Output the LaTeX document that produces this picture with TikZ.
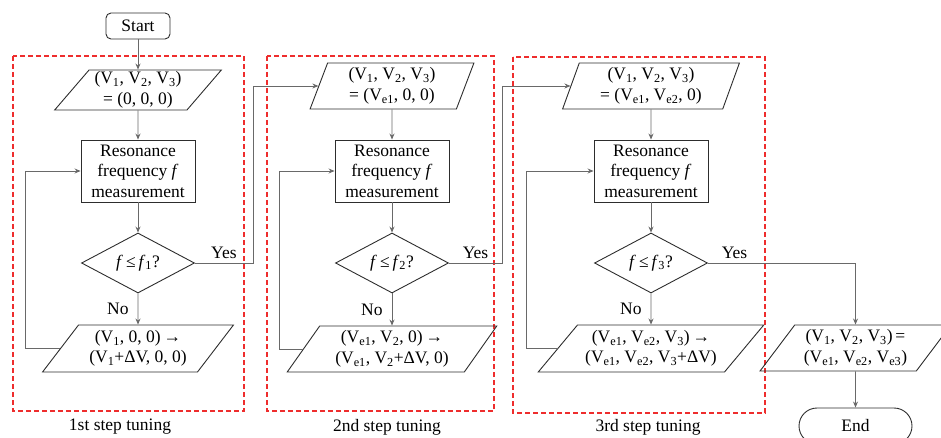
\documentclass[tikz,border=0pt]{standalone}
\usepackage{fontspec}
\setmainfont{Liberation Serif}
\usetikzlibrary{shapes.geometric,shapes.misc,arrows.meta}
\definecolor{framered}{RGB}{238,45,45}
\definecolor{edgegray}{RGB}{105,105,105}
\definecolor{linegray}{RGB}{45,45,45}
\newcommand{\vsub}[1]{V\textsubscript{#1}}
\newcommand{\fsub}[1]{\textit{f}\,≤\,\textit{f}\textsubscript{#1}?}
\tikzset{
  startbox/.style={draw=linegray, line width=0.9pt, rounded corners=5pt, minimum width=64pt, minimum height=26pt, inner sep=0pt},
  endbox/.style={draw=linegray, line width=0.9pt, rounded rectangle, minimum width=113pt, minimum height=36pt, inner sep=0pt},
  procbox/.style={draw=linegray, line width=0.9pt, align=center, minimum width=114pt, minimum height=62pt, inner sep=0pt},
  testbox/.style={draw=linegray, line width=0.9pt, diamond, aspect=1.9, minimum width=113pt, minimum height=60pt, inner sep=0pt},
  iobox/.style={draw=linegray, line width=0.9pt, trapezium, trapezium stretches=true, trapezium left angle=#1, trapezium right angle=180-#1, align=center, inner sep=0pt},
  stepframe/.style={draw=framered, line width=1.4pt, dash pattern=on 5pt off 3pt},
  caption/.style={inner sep=0pt}
}
\begin{document}
\begin{tikzpicture}[x=1pt, y=-1pt, font=\fontsize{17.5}{20.5}\selectfont]
      \useasboundingbox (0,0) rectangle (941,438);
      \draw[stepframe] (13,56) rectangle (244,411);
      \draw[stepframe] (267,56) rectangle (494,411);
      \draw[stepframe] (513,57) rectangle (765,413);
      \draw
        (138,26) node[startbox] (start) {Start}
        (138,90) node[iobox=50, minimum width=167pt, minimum height=40pt] (p1t) {(\vsub{1}, \vsub{2}, \vsub{3})\\= (0, 0, 0)}
        (138,171) node[procbox] (r1) {Resonance\\frequency \textit{f}\\measurement}
        (138,263) node[testbox] (d1) {\fsub{1}}
        (138,348.5) node[iobox=51, minimum width=191pt, minimum height=47pt] (p1b) {(\vsub{1}, 0, 0)\,→\\(\vsub{1}+ΔV, 0, 0)}
        (392,86) node[iobox=72, minimum width=164pt, minimum height=46pt] (p2t) {(\vsub{1}, \vsub{2}, \vsub{3})\\= (\vsub{e1}, 0, 0)}
        (392,171) node[procbox] (r2) {Resonance\\frequency \textit{f}\\measurement}
        (392,263) node[testbox] (d2) {\fsub{2}}
        (392,349) node[iobox=55, minimum width=210pt, minimum height=46pt] (p2b) {(\vsub{e1}, \vsub{2}, 0)\,→\\(\vsub{e1}, \vsub{2}+ΔV, 0)}
        (651,86) node[iobox=72, minimum width=177pt, minimum height=46pt] (p3t) {(\vsub{1}, \vsub{2}, \vsub{3})\\= (\vsub{e1}, \vsub{e2}, 0)}
        (651,171) node[procbox] (r3) {Resonance\\frequency \textit{f}\\measurement}
        (651,263) node[testbox] (d3) {\fsub{3}}
        (651,348.5) node[iobox=46, minimum width=226pt, minimum height=47pt] (p3b) {(\vsub{e1}, \vsub{e2}, \vsub{3})\,→\\(\vsub{e1}, \vsub{e2}, \vsub{3}+ΔV)}
        (855.5,348) node[iobox=51, minimum width=191pt, minimum height=46pt] (pe) {(\vsub{1}, \vsub{2}, \vsub{3})\,=\\(\vsub{e1}, \vsub{e2}, \vsub{e3})}
        (855.5,426) node[endbox] (end) {End};
      \draw
        (120,427) node[caption] (cap1) {1st step tuning}
        (387,427) node[caption] (cap2) {2nd step tuning}
        (648,427) node[caption] (cap3) {3rd step tuning};
      \coordinate (loop1) at (25,0);
      \coordinate (loop2) at (279,0);
      \coordinate (loop3) at (526,0);
      \coordinate (yes1) at (253,0);
      \coordinate (yes2) at (502,0);
      \begin{scope}[draw=edgegray, line width=0.8pt, -{Stealth[length=6pt,width=5pt]}]
        \draw (start) to (p1t);
        \draw (p1t) to (r1);
        \draw (r1) to (d1);
        \draw (d1) to node[left, inner sep=9pt] {No} (p1b);
        \draw (p1b.west) -- (p1b.west -| loop1) |- (r1.west);
        \draw (d1.east) -- node[above, inner sep=4pt] {Yes} (d1.east -| yes1) |- (p2t.west);
        \draw (p2t) to (r2);
        \draw (r2) to (d2);
        \draw (d2) to node[left, inner sep=9pt] {No} (p2b);
        \draw (p2b.west) -- (p2b.west -| loop2) |- (r2.west);
        \draw (d2.east) -- node[above, inner sep=4pt] {Yes} (d2.east -| yes2) |- (p3t.west);
        \draw (p3t) to (r3);
        \draw (r3) to (d3);
        \draw (d3) to node[left, inner sep=9pt] {No} (p3b);
        \draw (p3b.west) -- (p3b.west -| loop3) |- (r3.west);
        \draw (d3.east) -| node[above, pos=0.09, inner sep=4pt] {Yes} (pe.north);
        \draw (pe) to (end);
      \end{scope}
    \end{tikzpicture}
\end{document}
